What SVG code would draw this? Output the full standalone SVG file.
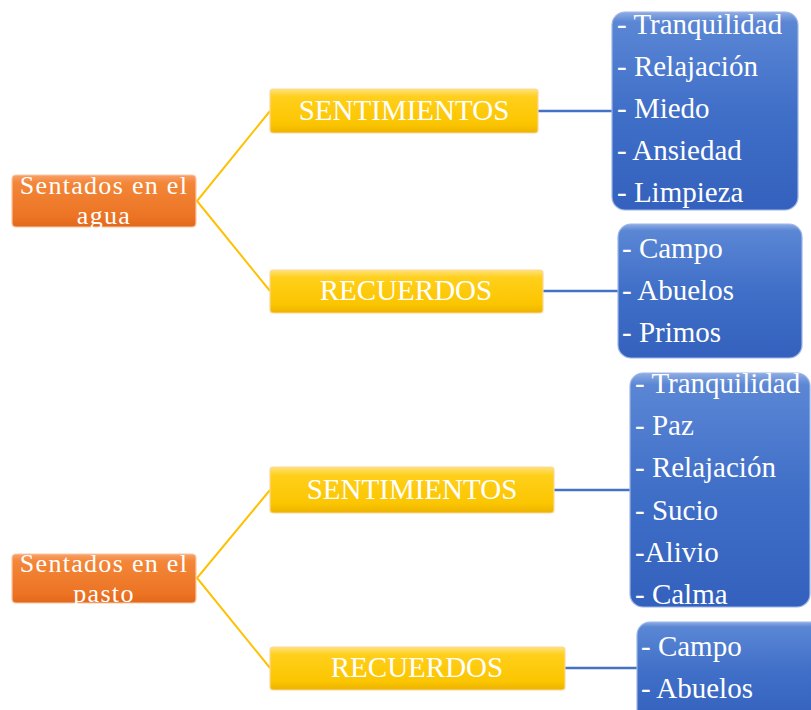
<svg xmlns="http://www.w3.org/2000/svg" width="811" height="710" viewBox="0 0 811 710">
<defs>
<linearGradient id="gOr" x1="0" y1="0" x2="0" y2="1">
<stop offset="0" stop-color="#F9A06A"/>
<stop offset="0.15" stop-color="#F38638"/>
<stop offset="0.8" stop-color="#EC7424"/>
<stop offset="1" stop-color="#E2681A"/>
</linearGradient>
<linearGradient id="gYe" x1="0" y1="0" x2="0" y2="1">
<stop offset="0" stop-color="#FFE27A"/>
<stop offset="0.18" stop-color="#FFCF1A"/>
<stop offset="0.8" stop-color="#FBC500"/>
<stop offset="1" stop-color="#EDB200"/>
</linearGradient>
<linearGradient id="gBl" x1="0" y1="0" x2="0" y2="1">
<stop offset="0" stop-color="#8EACE3"/>
<stop offset="0.05" stop-color="#5A86D4"/>
<stop offset="0.5" stop-color="#406FC8"/>
<stop offset="1" stop-color="#3361BD"/>
</linearGradient>
<style>
.or{fill:url(#gOr);stroke:#FBC7A5;stroke-width:1.2}
.ye{fill:url(#gYe);stroke:#FBD89A;stroke-width:1.2}
.bl{fill:url(#gBl);stroke:#9DB6E6;stroke-width:1.2}
.t{font-family:"Liberation Serif","Times New Roman",serif;font-size:29px;fill:#fff}
.o{font-size:26px;letter-spacing:1.3px}
.c{text-anchor:middle}
.gold{stroke:#FFC000;stroke-width:2;fill:none}
.blue{stroke:#4472C4;stroke-width:2.5;fill:none}
</style>
</defs>
<g id="connectors">
<polyline class="gold" points="270,111 197,201 270,291"/>
<line class="blue" x1="538" y1="111" x2="612" y2="111"/>
<line class="blue" x1="543" y1="291" x2="618" y2="291"/>
<polyline class="gold" points="270,490 197,578 270,668"/>
<line class="blue" x1="554" y1="490" x2="630" y2="490"/>
<line class="blue" x1="565" y1="668" x2="637" y2="668"/>
</g>
<g id="root1">
<rect class="or" x="12" y="175" width="184" height="52" rx="4"/>
<text class="t o c" x="104" y="194">Sentados en el</text>
<text class="t o c" x="104" y="224">agua</text>
</g>
<g id="sent1">
<rect class="ye" x="270" y="89" width="268" height="44" rx="3"/>
<text class="t c" x="404" y="120">SENTIMIENTOS</text>
</g>
<g id="rec1">
<rect class="ye" x="270" y="270" width="273" height="43" rx="3"/>
<text class="t c" x="406" y="300">RECUERDOS</text>
</g>
<g id="list1">
<rect class="bl" x="612" y="12" width="186" height="198" rx="13"/>
<text class="t" x="617" y="34">- Tranquilidad</text>
<text class="t" x="617" y="76">- Relajación</text>
<text class="t" x="617" y="118">- Miedo</text>
<text class="t" x="617" y="160">- Ansiedad</text>
<text class="t" x="617" y="202">- Limpieza</text>
</g>
<g id="list2">
<rect class="bl" x="618" y="224" width="184" height="134" rx="13"/>
<text class="t" x="622" y="258">- Campo</text>
<text class="t" x="622" y="300">- Abuelos</text>
<text class="t" x="622" y="342">- Primos</text>
</g>
<g id="root2">
<rect class="or" x="12" y="554" width="184" height="49" rx="4"/>
<text class="t o c" x="104" y="572">Sentados en el</text>
<text class="t o c" x="104" y="602">pasto</text>
</g>
<g id="sent2">
<rect class="ye" x="270" y="467" width="284" height="46" rx="3"/>
<text class="t c" x="412" y="499">SENTIMIENTOS</text>
</g>
<g id="rec2">
<rect class="ye" x="270" y="647" width="295" height="43" rx="3"/>
<text class="t c" x="417" y="677">RECUERDOS</text>
</g>
<g id="list3">
<rect class="bl" x="630" y="373" width="180" height="234" rx="13"/>
<text class="t" x="635" y="393">- Tranquilidad</text>
<text class="t" x="635" y="435">- Paz</text>
<text class="t" x="635" y="477">- Relajación</text>
<text class="t" x="635" y="520">- Sucio</text>
<text class="t" x="635" y="562">-Alivio</text>
<text class="t" x="635" y="604">- Calma</text>
</g>
<g id="list4">
<rect class="bl" x="637" y="622" width="185" height="100" rx="13"/>
<text class="t" x="641" y="656">- Campo</text>
<text class="t" x="641" y="698">- Abuelos</text>
</g>
</svg>
